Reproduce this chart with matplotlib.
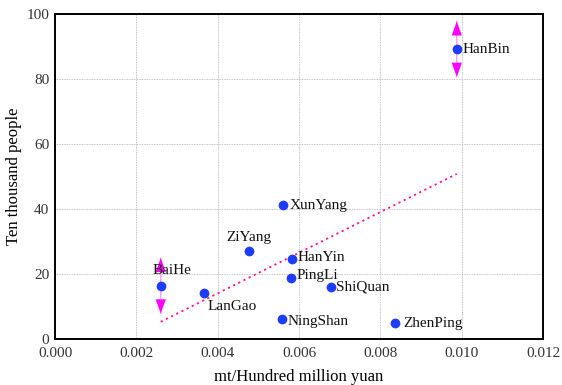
import matplotlib.pyplot as plt
import numpy as np

# county values
names = ['HanBin', 'XunYang', 'HanYin', 'PingLi', 'ShiQuan',
         'NingShan', 'ZhenPing', 'ZiYang', 'BaiHe', 'LanGao']
xv = [0.00988, 0.00561, 0.00582, 0.00580, 0.00678,
      0.00557, 0.00835, 0.00477, 0.00260, 0.00366]
yv = [89.2, 41.2, 24.5, 18.7, 16.0, 6.2, 4.8, 27.1, 16.4, 14.2]

# trend line end points
trend_x = [0.00260, 0.00988]
trend_y = [5.3, 50.8]

# counties with up/down arrows and arrow length
arrow_names = ['BaiHe', 'HanBin']
arrow_len = 8.5

# label offsets in points and alignment
offsets = {
    'HanBin': (4, 0, 'left'), 'XunYang': (5, 0, 'left'),
    'HanYin': (4, 1, 'left'), 'PingLi': (4, 2, 'left'),
    'ShiQuan': (4, 0, 'left'), 'NingShan': (4, -2, 'left'),
    'ZhenPing': (6, 0, 'left'), 'ZiYang': (0, 10, 'center'),
    'BaiHe': (8, 11, 'center'), 'LanGao': (3, -10, 'left'),
}

plt.rcParams['font.family'] = ['Liberation Serif', 'DejaVu Serif']

fig = plt.figure(figsize=(5.62, 3.85), dpi=100)
ax = fig.add_axes([0.0979, 0.1195, 0.8683, 0.8441])

ax.plot(trend_x, trend_y, color='#ff1493', linestyle=(0, (1.2, 2.0)), lw=1.3, zorder=2)

for nm in arrow_names:
    i = names.index(nm)
    for d in (1, -1):
        # light shaft, solid magenta head
        ax.annotate('', xy=(xv[i], yv[i] + d * arrow_len), xytext=(xv[i], yv[i]),
                    arrowprops=dict(arrowstyle='-', color='#ff99ff', lw=1.0,
                                    shrinkA=0, shrinkB=0), zorder=2)
        ax.annotate('', xy=(xv[i], yv[i] + d * arrow_len),
                    xytext=(xv[i], yv[i] + d * (arrow_len - 4)),
                    arrowprops=dict(arrowstyle='-|>,head_length=0.55,head_width=0.2',
                                    color='#ff00ff', lw=0.1,
                                    mutation_scale=18, shrinkA=0, shrinkB=0),
                    zorder=2)

ax.scatter(xv, yv, s=36, color='#1e3cff', zorder=3)

for i, nm in enumerate(names):
    dx, dy, ha = offsets[nm]
    ax.annotate(nm, (xv[i], yv[i]), xytext=(dx, dy), textcoords='offset points',
                ha=ha, va='center', fontsize=11, color='#111111')

ax.set_xlim(0, 0.012)
ax.set_ylim(0, 100)
ax.set_xticks(np.arange(0, 0.0121, 0.002))
ax.set_xticklabels(['%.3f' % t for t in np.arange(0, 0.0121, 0.002)])
ax.set_yticks([0, 20, 40, 60, 80, 100])
ax.tick_params(axis='both', length=0, labelsize=11, labelcolor='#333333', pad=4)
ax.tick_params(axis='x', pad=6)
ax.grid(True, color='#b0b0b0', linestyle=(0, (1, 1)), lw=0.6)
ax.set_axisbelow(True)
for sp in ax.spines.values():
    sp.set_linewidth(1.4)

ax.set_xlabel('mt/Hundred million yuan', fontsize=12, labelpad=6)
ax.set_ylabel('Ten thousand people', fontsize=12, labelpad=3)

fig.savefig('out.png', dpi=100)
